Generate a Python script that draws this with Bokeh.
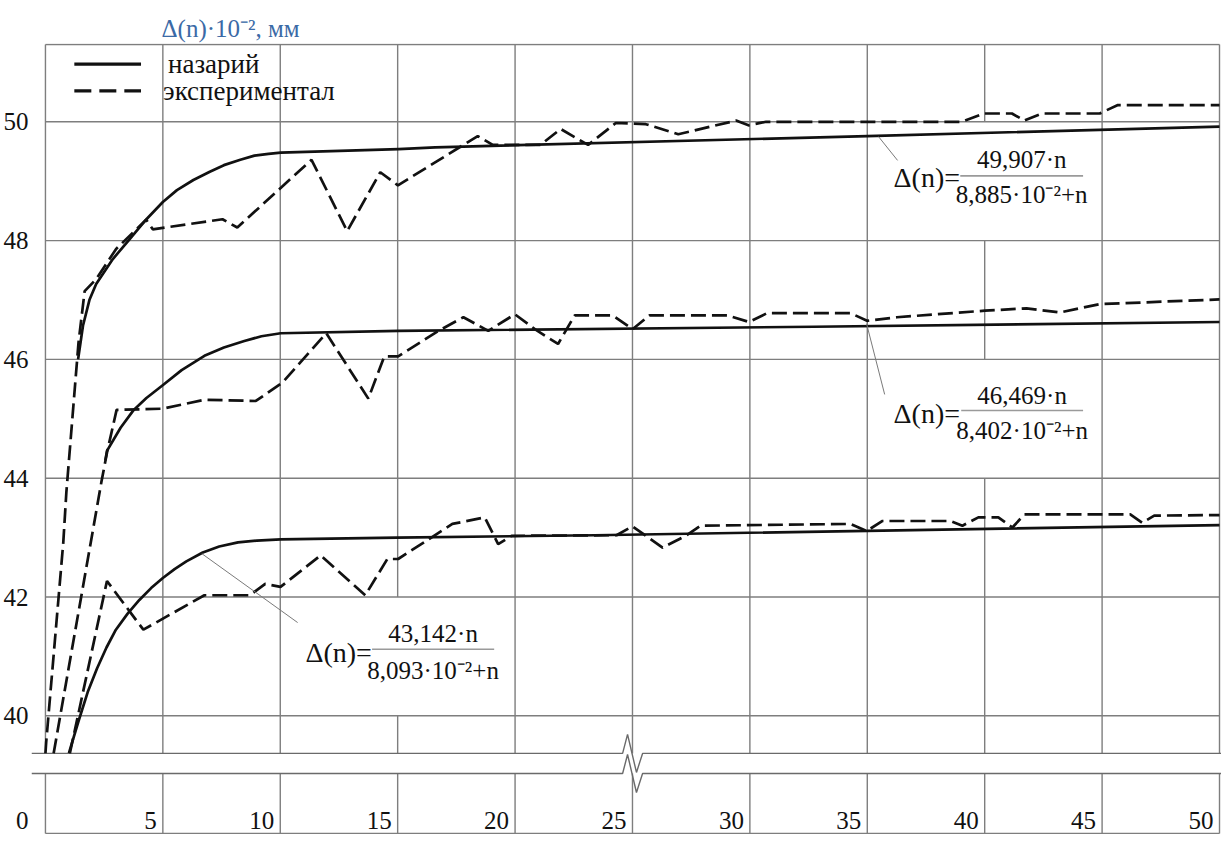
from bokeh.plotting import figure
from bokeh.models import Range1d, FixedTicker, CustomJSTickFormatter
from bokeh.core.properties import value
from bokeh.embed import file_html
from bokeh.resources import INLINE

# ---------------- data ----------------
# theoretical curve 1 (top)
th1_n = [1.39, 1.60, 1.88, 2.16, 2.87, 3.58, 4.30, 5.00, 5.60, 6.30, 7.00, 7.60, 8.30, 8.90, 9.50, 10.02,
         15.04, 16.6, 35.0, 50.0]
th1_v = [46.00, 46.57, 47.01, 47.27, 47.69, 48.02, 48.36, 48.65, 48.85, 49.02, 49.16, 49.27, 49.36, 49.43,
         49.46, 49.48, 49.54, 49.57, 49.76, 49.92]
# experimental curve 1 (top)
ex1_n = [0.0, 0.03, 0.76, 0.89, 1.41, 1.67, 2.16, 3.01, 4.29, 4.57, 7.54, 8.17, 11.33, 12.85,
         14.26, 15.01, 18.41, 19.05, 21.08, 21.94, 23.11, 24.29, 25.57, 26.95, 29.41, 29.94,
         30.69, 39.02, 39.98, 41.16, 41.69, 42.44, 44.90, 45.65, 50.0]
ex1_v = [39.37, 39.55, 42.92, 43.76, 46.29, 47.15, 47.35, 47.86, 48.35, 48.19, 48.36, 48.22, 49.36, 48.16,
         49.15, 48.93, 49.76, 49.61, 49.61, 49.88, 49.61, 49.98, 49.96, 49.79, 50.02, 49.94,
         50.00, 50.00, 50.14, 50.14, 50.02, 50.14, 50.14, 50.28, 50.28]
# theoretical curve 2 (middle)
th2_n = [2.55, 2.62, 3.20, 3.76, 4.30, 4.98, 5.80, 6.77, 7.60, 8.47, 9.20, 10.02, 15.02, 32.73, 50.0]
th2_v = [44.30, 44.46, 44.85, 45.15, 45.35, 45.56, 45.82, 46.06, 46.20, 46.31, 46.39, 46.44, 46.48, 46.55, 46.63]
# experimental curve 2 (middle)
ex2_n = [0.35, 2.38, 2.62, 3.03, 4.98, 6.77, 8.96, 10.09, 11.96, 13.75, 14.43, 15.02, 16.74, 17.80,
         18.86, 19.99, 20.84, 21.83, 22.54, 24.16, 25.01, 25.72, 29.04, 29.97, 30.74, 34.28,
         34.99, 36.26, 40.01, 41.78, 43.20, 44.89, 50.0]
ex2_v = [39.37, 43.93, 44.43, 45.15, 45.17, 45.32, 45.30, 45.61, 46.44, 45.34, 46.05, 46.05, 46.48, 46.71,
         46.48, 46.76, 46.51, 46.26, 46.74, 46.74, 46.51, 46.74, 46.74, 46.63, 46.78, 46.78,
         46.65, 46.71, 46.82, 46.86, 46.79, 46.93, 47.01]
# theoretical curve 3 (bottom)
th3_n = [1.00, 1.40, 1.80, 2.20, 2.60, 3.00, 3.50, 4.00, 4.50, 5.00, 5.50, 6.00, 6.70, 7.40, 8.20, 9.00,
         10.02, 14.97, 23.39, 50.0]
th3_v = [39.37, 39.90, 40.40, 40.80, 41.15, 41.45, 41.72, 41.95, 42.15, 42.32, 42.47, 42.60, 42.75, 42.85,
         42.92, 42.95, 42.97, 43.00, 43.04, 43.21]
# experimental curve 3 (bottom)
ex3_n = [1.04, 2.62, 3.60, 4.17, 6.77, 8.71, 9.36, 10.01, 11.72, 13.62, 14.56, 15.02, 17.33, 18.71,
         19.28, 19.85, 24.32, 25.00, 26.28, 27.31, 27.90, 34.28, 34.97, 35.65, 38.54, 39.05,
         39.73, 40.58, 41.18, 41.69, 46.20, 46.71, 47.22, 50.0]
ex3_v = [39.37, 42.27, 41.75, 41.45, 42.03, 42.03, 42.22, 42.17, 42.70, 42.03, 42.64, 42.64, 43.23, 43.34,
         42.89, 43.03, 43.04, 43.19, 42.83, 43.04, 43.20, 43.23, 43.11, 43.28, 43.28, 43.20,
         43.34, 43.34, 43.17, 43.39, 43.39, 43.25, 43.37, 43.38]

# axis ticks
y_ticks = [40, 42, 44, 46, 48, 50]
y_zero_tick = 38.237          # where the "0" of the broken axis sits
x_ticks = [5, 10, 15, 20, 25, 30, 35, 40, 45, 50]
x_tick_labels = [str(t) for t in x_ticks]
x_grid = [0, 5, 10, 15, 20, 25, 30, 35, 40, 45, 50]

# texts
title_text = "Δ(n)·10⁻², мм"
legend_labels = ["назарий", "экспериментал"]
eq_lhs = "Δ(n)="
eq_num = ["49,907·n", "46,469·n", "43,142·n"]
eq_den = ["8,885·10⁻²+n", "8,402·10⁻²+n", "8,093·10⁻²+n"]

# ---------------- layout / style constants ----------------
X_LO, X_HI = -0.594, 50.085
Y_LO, Y_HI = 38.002, 51.318
Y_TOPLINE = 51.30
Y_BOTLINE = 38.019
GAP_TOP, GAP_BOT = 39.367, 39.029
SERIF = "Liberation Serif, Times New Roman, serif"
INK = "#111111"
GRID = "#7e7e7e"
LW = 2.7
DASH = "15 6"

p = figure(width=1221, height=834, x_range=Range1d(X_LO, X_HI), y_range=Range1d(Y_LO, Y_HI),
           output_backend="svg", toolbar_location=None, x_axis_location=None,
           min_border_left=27, min_border_right=0, min_border_top=43, min_border_bottom=0)
p.xgrid.visible = False
p.ygrid.visible = False
p.outline_line_color = None
p.background_fill_color = "white"
p.border_fill_color = "white"

# title
p.title.text = title_text
p.title.text_font = SERIF
p.title.text_font_size = "25px"
p.title.text_font_style = "normal"
p.title.text_color = "#3b6aa6"
p.title.offset = 130
p.title.standoff = 4

# y axis
ax = p.yaxis[0]
ax.ticker = FixedTicker(ticks=[y_zero_tick] + y_ticks)
ax.formatter = CustomJSTickFormatter(code="return tick < 39.5 ? '0' : tick.toFixed(0);")
ax.major_label_text_font = SERIF
ax.major_label_text_font_size = "25px"
ax.major_label_text_color = INK
ax.axis_line_color = None
ax.major_tick_line_color = None
ax.minor_tick_line_color = None
ax.major_label_standoff = -3

# ---------------- grid drawn as cells ----------------
removed = [(15, 40, 42), (40, 44, 46), (40, 48, 50)]   # cells covered by the formula boxes
vx0, vx1, vy0, vy1 = [], [], [], []
for gx in x_grid:
    cuts = sorted([(a, b) for (g, a, b) in removed if g == gx])
    start = GAP_TOP
    for a, b in cuts:
        vx0.append(gx); vx1.append(gx); vy0.append(start); vy1.append(a)
        start = b
    vx0.append(gx); vx1.append(gx); vy0.append(start); vy1.append(Y_TOPLINE)
    vx0.append(gx); vx1.append(gx); vy0.append(Y_BOTLINE); vy1.append(GAP_BOT)
for gy in y_ticks + [Y_TOPLINE, Y_BOTLINE]:
    vx0.append(0); vx1.append(50); vy0.append(gy); vy1.append(gy)
p.segment(x0=vx0, y0=vy0, x1=vx1, y1=vy1, line_color=GRID, line_width=1.4)

# axis-break lines with the zig-zag
zx, zd1, zd2, zd3, zh = 24.58, 0.21, 0.59, 0.85, 0.32
for yb in (GAP_TOP, GAP_BOT):
    p.line(x=[X_LO, zx, zx + zd1, zx + zd2, zx + zd3, X_HI],
           y=[yb, yb, yb + zh, yb - zh, yb, yb], line_color="#6a6a6a", line_width=1.4)

# ---------------- curves ----------------
for nn, vv in ((th1_n, th1_v), (th2_n, th2_v), (th3_n, th3_v)):
    p.line(nn, vv, line_color=INK, line_width=LW, line_join="round")
for nn, vv in ((ex1_n, ex1_v), (ex2_n, ex2_v), (ex3_n, ex3_v)):
    p.line(nn, vv, line_color=INK, line_width=LW, line_dash=DASH)

# ---------------- legend (drawn) ----------------
p.line([1.23, 4.07], [50.97, 50.97], line_color=INK, line_width=3.2)
p.line([1.23, 4.07], [50.52, 50.52], line_color=INK, line_width=3.2, line_dash="17 8")
p.text(x=[5.22, 5.01], y=[50.97, 50.52], text=legend_labels, text_font=value(SERIF),
       text_font_size="27px", text_color=INK, text_baseline="middle", text_align="left")

# ---------------- formulas ----------------
lhs_x = [36.12, 36.12, 11.07]
lhs_y = [49.06, 45.09, 41.07]
bar_x0 = [38.96, 39.00, 13.91]
bar_x1 = [44.19, 44.19, 19.11]
bar_y = [49.09, 45.14, 41.12]
num_y = [49.37, 45.39, 41.38]
den_y = [48.78, 44.81, 40.76]
lead_x0 = [35.48, 34.97, 6.66]
lead_y0 = [49.75, 46.60, 42.73]
lead_x1 = [36.29, 35.74, 10.74]
lead_y1 = [49.35, 45.41, 41.57]

p.segment(x0=lead_x0, y0=lead_y0, x1=lead_x1, y1=lead_y1, line_color="#7a7a7a", line_width=1)
p.segment(x0=bar_x0, y0=bar_y, x1=bar_x1, y1=bar_y, line_color="#9a9a9a", line_width=1.6)
p.text(x=lhs_x, y=lhs_y, text=[eq_lhs] * 3, text_font=value(SERIF), text_font_size="28px",
       text_color=INK, text_baseline="middle", text_align="left")
cx = [(a + b) / 2 for a, b in zip(bar_x0, bar_x1)]
p.text(x=cx, y=num_y, text=eq_num, text_font=value(SERIF), text_font_size="25px",
       text_color=INK, text_baseline="middle", text_align="center")
p.text(x=cx, y=den_y, text=eq_den, text_font=value(SERIF), text_font_size="25px",
       text_color=INK, text_baseline="middle", text_align="center")

# ---------------- x labels inside the lower strip ----------------
p.text(x=x_ticks, y=[y_zero_tick] * len(x_ticks), text=x_tick_labels, text_font=value(SERIF),
       text_font_size="25px", text_color=INK, text_baseline="middle", text_align="right",
       x_offset=-6)

open("out.html", "w").write(file_html(p, INLINE))
